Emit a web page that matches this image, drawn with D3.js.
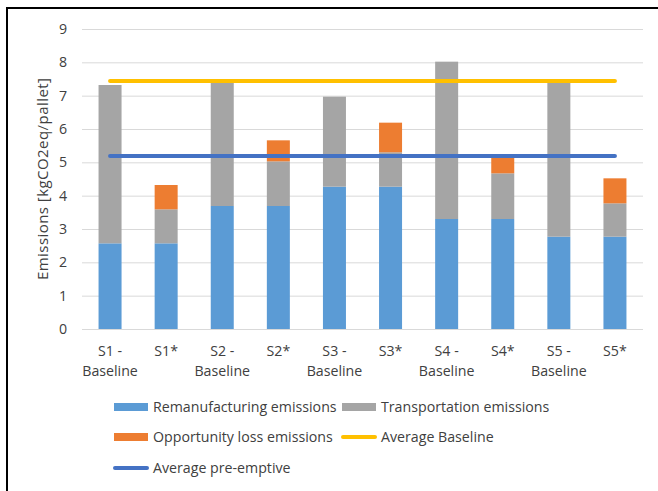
<!DOCTYPE html>
<html>
<head>
<meta charset="UTF-8">
<script src="https://cdnjs.cloudflare.com/ajax/libs/d3/7.8.5/d3.min.js"></script>
<style>
body {margin:0; background:#fff; font-family:"Open Sans", sans-serif;}
text {fill:#404040;}
</style>
</head>
<body>
<div id="chart"></div>
<script>
// data
var categories = ["S1 - Baseline", "S1*", "S2 - Baseline", "S2*", "S3 - Baseline", "S3*", "S4 - Baseline", "S4*", "S5 - Baseline", "S5*"];
var remanufacturing = [2.57, 2.57, 3.69, 3.69, 4.27, 4.27, 3.30, 3.30, 2.77, 2.77];
var transportation  = [4.75, 1.02, 3.70, 1.34, 2.70, 1.03, 4.72, 1.37, 4.62, 1.00];
var opportunity     = [0, 0.73, 0, 0.63, 0, 0.89, 0, 0.48, 0, 0.75];
var avgBaseline = 7.44;
var avgPreemptive = 5.19;
var yTicks = [0, 1, 2, 3, 4, 5, 6, 7, 8, 9];

var w = 658, h = 491;
var plotLeft = 82, plotRight = 643, plotTop = 29, plotBottom = 329;
var fs = "14.2px";

var svg = d3.select("#chart").append("svg")
  .attr("width", w).attr("height", h);

// outer frame
svg.append("rect").attr("x", 7).attr("y", 8).attr("width", 660).attr("height", 500)
  .attr("fill", "none").attr("stroke", "#000").attr("stroke-width", 2);

var x = d3.scaleBand().domain(categories).range([plotLeft, plotRight]).paddingInner(0.59).paddingOuter(0.295);
var y = d3.scaleLinear().domain([0, 9]).range([plotBottom, plotTop]);

// gridlines
svg.append("g").selectAll("line").data(yTicks).enter().append("line")
  .attr("x1", plotLeft).attr("x2", plotRight)
  .attr("y1", d => y(d) + 0.5).attr("y2", d => y(d) + 0.5)
  .attr("stroke", "#d9d9d9").attr("stroke-width", 1);

// y tick labels
svg.append("g").selectAll("text").data(yTicks).enter().append("text")
  .attr("x", 67).attr("y", d => y(d)).attr("dy", "0.35em")
  .attr("text-anchor", "end").style("font-size", fs)
  .text(d => d);

// stacked bars
var rows = categories.map((c, i) => ({cat: c, reman: remanufacturing[i], trans: transportation[i], opp: opportunity[i]}));
var stack = d3.stack().keys(["reman", "trans", "opp"])(rows);
var colors = {reman: "#5b9bd5", trans: "#a5a5a5", opp: "#ed7d31"};

svg.append("g").selectAll("g").data(stack).enter().append("g")
  .attr("fill", d => colors[d.key])
  .selectAll("rect").data(d => d).enter().append("rect")
  .attr("x", d => x(d.data.cat))
  .attr("width", x.bandwidth())
  .attr("y", d => y(d[1]))
  .attr("height", d => y(d[0]) - y(d[1]));

// average lines, first to last category centre
var x0 = x(categories[0]) + x.bandwidth() / 2;
var x1 = x(categories[categories.length - 1]) + x.bandwidth() / 2;
svg.append("line").attr("x1", x0).attr("x2", x1)
  .attr("y1", y(avgBaseline)).attr("y2", y(avgBaseline))
  .attr("stroke", "#ffc000").attr("stroke-width", 4).attr("stroke-linecap", "round");
svg.append("line").attr("x1", x0).attr("x2", x1)
  .attr("y1", y(avgPreemptive)).attr("y2", y(avgPreemptive))
  .attr("stroke", "#4472c4").attr("stroke-width", 4).attr("stroke-linecap", "round");

// x labels
var xl = svg.append("g").selectAll("text").data(categories).enter().append("text")
  .attr("x", d => x(d) + x.bandwidth() / 2).attr("y", 356)
  .attr("text-anchor", "middle").style("font-size", fs);
xl.each(function(d) {
  var parts = d.split(" - ");
  var t = d3.select(this);
  if (parts.length > 1) {
    t.append("tspan").attr("x", t.attr("x")).text(parts[0] + " -");
    t.append("tspan").attr("x", t.attr("x")).attr("dy", 20).text(parts[1]);
  } else {
    t.text(d);
  }
});

// y axis title
svg.append("text")
  .attr("transform", "translate(43,179) rotate(-90)")
  .attr("text-anchor", "middle").attr("dy", "0.35em").style("font-size", "15px")
  .attr("textLength", 202).attr("lengthAdjust", "spacing")
  .text("Emissions [kgCO2eq/pallet]");

// legend
var legend = [
  {name: "Remanufacturing emissions", type: "rect", color: "#5b9bd5", x: 114, y: 407},
  {name: "Transportation emissions", type: "rect", color: "#a5a5a5", x: 342, y: 407},
  {name: "Opportunity loss emissions", type: "rect", color: "#ed7d31", x: 114, y: 437},
  {name: "Average Baseline", type: "line", color: "#ffc000", x: 342, y: 437},
  {name: "Average pre-emptive", type: "line", color: "#4472c4", x: 114, y: 468}
];
var lg = svg.append("g").selectAll("g").data(legend).enter().append("g")
  .attr("transform", d => "translate(" + d.x + "," + d.y + ")");
lg.filter(d => d.type == "rect").append("rect")
  .attr("x", 0).attr("y", -4).attr("width", 34).attr("height", 8).attr("fill", d => d.color);
lg.filter(d => d.type == "line").append("line")
  .attr("x1", 1).attr("x2", 33).attr("y1", 0).attr("y2", 0)
  .attr("stroke", d => d.color).attr("stroke-width", 4).attr("stroke-linecap", "round");
lg.append("text").attr("x", 39).attr("dy", "0.35em").style("font-size", fs)
  .text(d => d.name);
</script>
</body>
</html>
